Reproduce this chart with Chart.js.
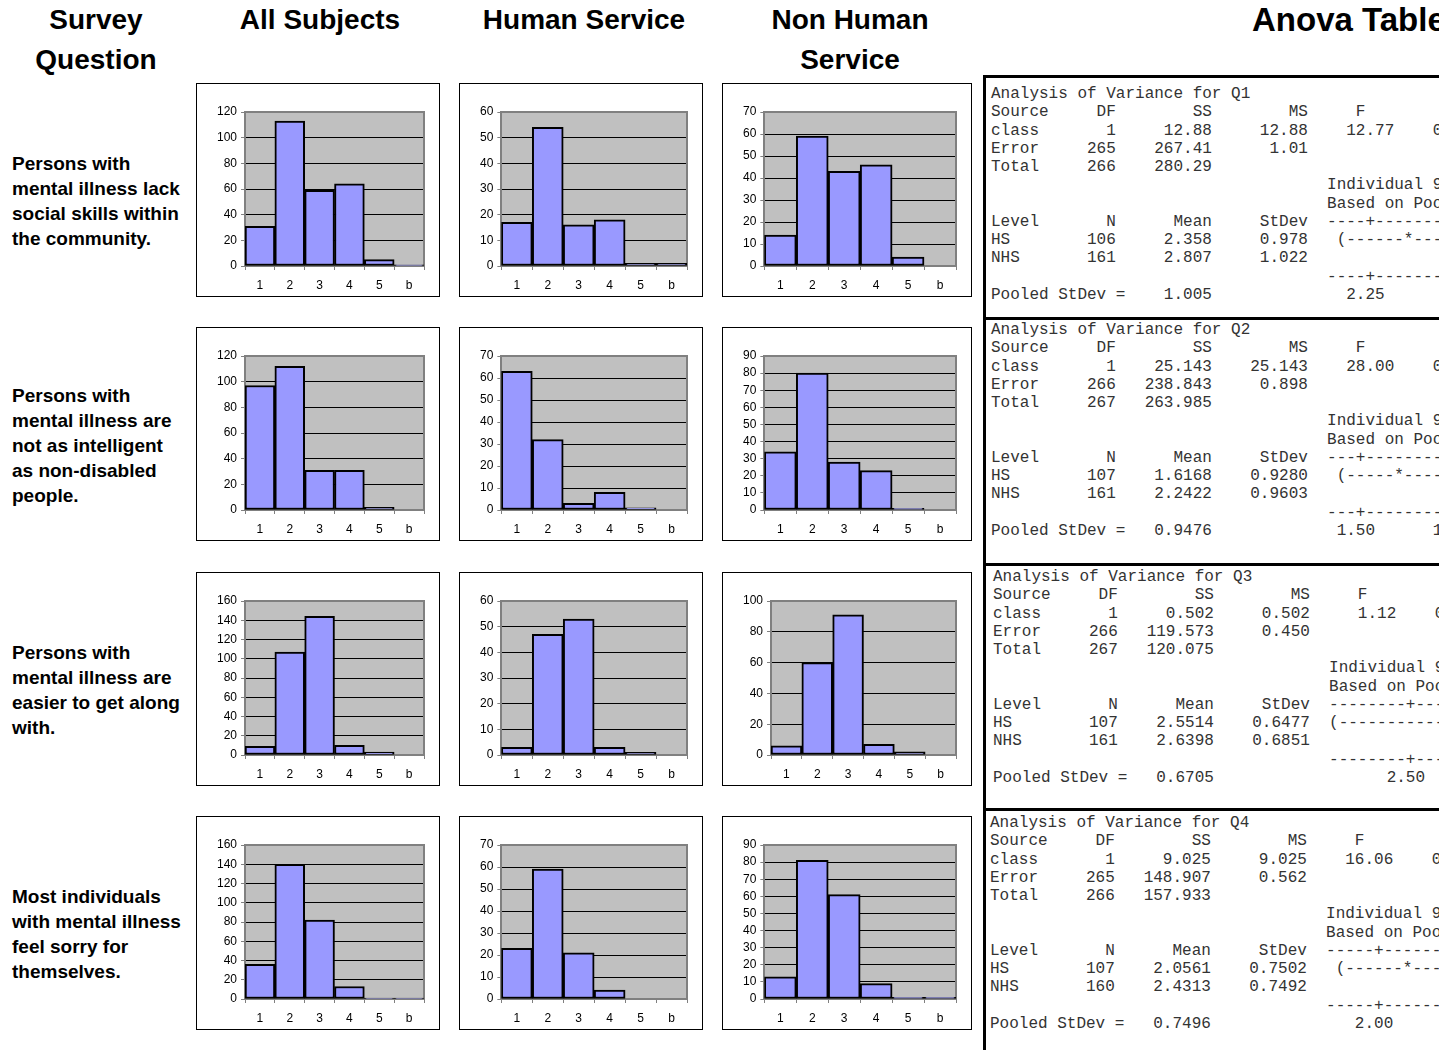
<!DOCTYPE html>
<html>
<head>
<meta charset="utf-8">
<title>Survey histograms and ANOVA</title>
<script src="https://cdn.jsdelivr.net/npm/chart.js@4.4.1/dist/chart.umd.min.js"></script>
<style>
  html, body { margin: 0; padding: 0; background: #fff; }
  #page { position: relative; width: 1439px; height: 1050px; overflow: hidden;
          font-family: Arial, "Liberation Sans", sans-serif; color: #000; }
  .hdr { position: absolute; top: 0; font-weight: bold; font-size: 28px; line-height: 40px; text-align: center; white-space: nowrap; }
  .q { position: absolute; left: 12px; font-weight: bold; font-size: 19px; line-height: 25px; white-space: nowrap; }
  .box { position: absolute; border: 1px solid #000; background: #fff; }
  .box canvas { display: block; }
  #anova { position: absolute; left: 983px; top: 75px; width: 520px; height: 1000px; border-left: 3px solid #000; }
  .rule { position: absolute; left: 0; width: 100%; height: 3px; background: #000; }
  #anova pre { position: absolute; left: 5px; margin: 0; font-family: "Liberation Mono", "Courier New", monospace;
               font-size: 16px; line-height: 18.27px; color: #333; }
</style>
</head>
<body>
<div id="page"></div>
<script>
// Response categories on every histogram
const categories = ['1', '2', '3', '4', '5', 'b'];

// Counts per question: all subjects, human service, non human service
const q1All = [31, 113, 59, 64, 5, 1];
const q1HS  = [17, 54, 16, 18, 1, 1];
const q1NHS = [14, 59, 43, 46, 4, 0];

const q2All = [97, 112, 31, 31, 2, 0];
const q2HS  = [63, 32, 3, 8, 1, 0];
const q2NHS = [34, 80, 28, 23, 1, 0];

const q3All = [9, 107, 144, 10, 3, 0];
const q3HS  = [3, 47, 53, 3, 1, 0];
const q3NHS = [6, 60, 91, 7, 2, 0];

const q4All = [36, 140, 82, 13, 1, 1];
const q4HS  = [23, 59, 21, 4, 0, 0];
const q4NHS = [13, 81, 61, 9, 1, 1];

// y axis top and step for each chart in a row (All, HS, NHS)
const yMaxQ1 = [120, 60, 70],  yStepQ1 = [20, 10, 10];
const yMaxQ2 = [120, 70, 90],  yStepQ2 = [20, 10, 10];
const yMaxQ3 = [160, 60, 100], yStepQ3 = [20, 10, 20];
const yMaxQ4 = [160, 70, 90],  yStepQ4 = [20, 10, 10];

const questionQ1 = ['Persons with', 'mental illness lack', 'social skills within', 'the community.'];
const questionQ2 = ['Persons with', 'mental illness are', 'not as intelligent', 'as non-disabled', 'people.'];
const questionQ3 = ['Persons with', 'mental illness are', 'easier to get along', 'with.'];
const questionQ4 = ['Most individuals', 'with mental illness', 'feel sorry for', 'themselves.'];

// Minitab one-way ANOVA output, as printed
const anovaQ1 = [
  'Analysis of Variance for Q1',
  'Source     DF        SS        MS     F        P',
  'class       1     12.88     12.88    12.77    0.000',
  'Error     265    267.41      1.01',
  'Total     266    280.29',
  '                                   Individual 95% CIs For Mean',
  '                                   Based on Pooled StDev',
  'Level       N      Mean     StDev  ----+---------+---------+---------+--',
  'HS        106     2.358     0.978   (------*-----)',
  'NHS       161     2.807     1.022                    (-----*----)',
  '                                   ----+---------+---------+---------+--',
  'Pooled StDev =    1.005              2.25      2.50      2.75      3.00'
];
const anovaQ2 = [
  'Analysis of Variance for Q2',
  'Source     DF        SS        MS     F        P',
  'class       1    25.143    25.143    28.00    0.000',
  'Error     266   238.843     0.898',
  'Total     267   263.985',
  '                                   Individual 95% CIs For Mean',
  '                                   Based on Pooled StDev',
  'Level       N      Mean     StDev  ---+---------+---------+---------+---',
  'HS        107    1.6168    0.9280   (-----*----)',
  'NHS       161    2.2422    0.9603                        (----*----)',
  '                                   ---+---------+---------+---------+---',
  'Pooled StDev =   0.9476             1.50      1.75      2.00      2.25'
];
const anovaQ3 = [
  'Analysis of Variance for Q3',
  'Source     DF        SS        MS     F        P',
  'class       1     0.502     0.502     1.12    0.291',
  'Error     266   119.573     0.450',
  'Total     267   120.075',
  '                                   Individual 95% CIs For Mean',
  '                                   Based on Pooled StDev',
  'Level       N      Mean     StDev  --------+---------+---------+------',
  'HS        107    2.5514    0.6477  (-----------*-----------)',
  'NHS       161    2.6398    0.6851                  (--------*---------)',
  '                                   --------+---------+---------+------',
  'Pooled StDev =   0.6705                  2.50      2.60      2.70'
];
const anovaQ4 = [
  'Analysis of Variance for Q4',
  'Source     DF        SS        MS     F        P',
  'class       1     9.025     9.025    16.06    0.000',
  'Error     265   148.907     0.562',
  'Total     266   157.933',
  '                                   Individual 95% CIs For Mean',
  '                                   Based on Pooled StDev',
  'Level       N      Mean     StDev  -----+---------+---------+---------+',
  'HS        107    2.0561    0.7502   (------*-----)',
  'NHS       160    2.4313    0.7492                         (----*----)',
  '                                   -----+---------+---------+---------+',
  'Pooled StDev =   0.7496               2.00      2.25      2.50      2.75'
];

const rows = [
  { series: [q1All, q1HS, q1NHS], yMax: yMaxQ1, yStep: yStepQ1, text: questionQ1, anova: anovaQ1 },
  { series: [q2All, q2HS, q2NHS], yMax: yMaxQ2, yStep: yStepQ2, text: questionQ2, anova: anovaQ2 },
  { series: [q3All, q3HS, q3NHS], yMax: yMaxQ3, yStep: yStepQ3, text: questionQ3, anova: anovaQ3 },
  { series: [q4All, q4HS, q4NHS], yMax: yMaxQ4, yStep: yStepQ4, text: questionQ4, anova: anovaQ4 },
];

// layout of the page
const ROW_TOP = [83, 327, 572, 816];
const COL_LEFT = [196, 459, 722];
const COL_W = [244, 244, 250];
const BOX_H = 214;
const TEXT_TOP = [151, 383, 640, 884];
const RULE_TOP = [0, 242, 488, 733];      // relative to anova block
const ANOVA_TOP = [10, 246, 493, 739];
const ANOVA_LEFT = [5, 5, 7, 4];

Chart.defaults.font.family = 'Arial, "Liberation Sans", sans-serif';
Chart.defaults.font.size = 12;
Chart.defaults.color = '#000';

// grey plot area with a grey frame, like the old Excel charts
const plotFrame = {
  id: 'plotFrame',
  beforeDraw(chart) {
    const a = chart.chartArea, ctx = chart.ctx;
    ctx.save();
    ctx.fillStyle = '#c0c0c0';
    ctx.fillRect(a.left, a.top, a.right - a.left, a.bottom - a.top);
    ctx.restore();
  },
  beforeDatasetsDraw(chart) {
    const a = chart.chartArea, ctx = chart.ctx;
    ctx.save();
    ctx.strokeStyle = '#808080';
    ctx.lineWidth = 2;
    ctx.beginPath();
    ctx.moveTo(a.left, a.top);
    ctx.lineTo(a.right, a.top);
    ctx.lineTo(a.right, a.bottom);
    ctx.stroke();
    ctx.restore();
  }
};

function histogram(canvas, values, yMax, yStep) {
  return new Chart(canvas.getContext('2d'), {
    type: 'bar',
    data: {
      labels: categories,
      datasets: [{
        data: values,
        backgroundColor: '#9999ff',
        borderColor: '#000',
        borderWidth: 2,
        borderSkipped: false,
        categoryPercentage: 1,
        barPercentage: 1,
      }],
    },
    options: {
      responsive: false,
      animation: false,
      layout: { padding: { left: 16, right: 15, top: 28, bottom: 5 } },
      plugins: { legend: { display: false }, tooltip: { enabled: false } },
      scales: {
        x: {
          grid: { display: true, drawOnChartArea: false, offset: true, tickLength: 4, color: '#808080' },
          border: { color: '#808080', width: 2 },
          ticks: { padding: 8, color: '#000', maxRotation: 0, autoSkip: false, font: { size: 12 } },
          afterFit(scale) { scale.height = 25; },
        },
        y: {
          min: 0,
          max: yMax,
          ticks: { stepSize: yStep, padding: 4, color: '#000', autoSkip: false, font: { size: 12 } },
          grid: { color: '#000', tickColor: '#808080', tickLength: 4 },
          border: { color: '#808080', width: 2 },
        },
      },
    },
    plugins: [plotFrame],
  });
}

const page = document.getElementById('page');

function addText(cls, html, css) {
  const d = document.createElement('div');
  d.className = cls;
  d.innerHTML = html;
  Object.assign(d.style, css);
  page.appendChild(d);
  return d;
}

addText('hdr', 'Survey<br>Question', { left: '16px', width: '160px' });
addText('hdr', 'All Subjects', { left: '220px', width: '200px' });
addText('hdr', 'Human Service', { left: '464px', width: '240px' });
addText('hdr', 'Non Human<br>Service', { left: '730px', width: '240px' });
addText('hdr', 'Anova Table', { left: '1252px', fontSize: '33px', textAlign: 'left' });

const anova = document.createElement('div');
anova.id = 'anova';
page.appendChild(anova);

rows.forEach((row, r) => {
  addText('q', row.text.join('<br>'), { top: TEXT_TOP[r] + 'px' });

  row.series.forEach((values, c) => {
    const box = document.createElement('div');
    box.className = 'box';
    box.style.left = COL_LEFT[c] + 'px';
    box.style.top = ROW_TOP[r] + 'px';
    box.style.width = (COL_W[c] - 2) + 'px';
    box.style.height = (BOX_H - 2) + 'px';
    const canvas = document.createElement('canvas');
    canvas.width = COL_W[c] - 2;
    canvas.height = BOX_H - 2;
    box.appendChild(canvas);
    page.appendChild(box);
    histogram(canvas, values, row.yMax[c], row.yStep[c]);
  });

  const rule = document.createElement('div');
  rule.className = 'rule';
  rule.style.top = RULE_TOP[r] + 'px';
  anova.appendChild(rule);

  const pre = document.createElement('pre');
  pre.textContent = row.anova.join('\n');
  pre.style.top = ANOVA_TOP[r] + 'px';
  pre.style.left = ANOVA_LEFT[r] + 'px';
  anova.appendChild(pre);
});
</script>
</body>
</html>
